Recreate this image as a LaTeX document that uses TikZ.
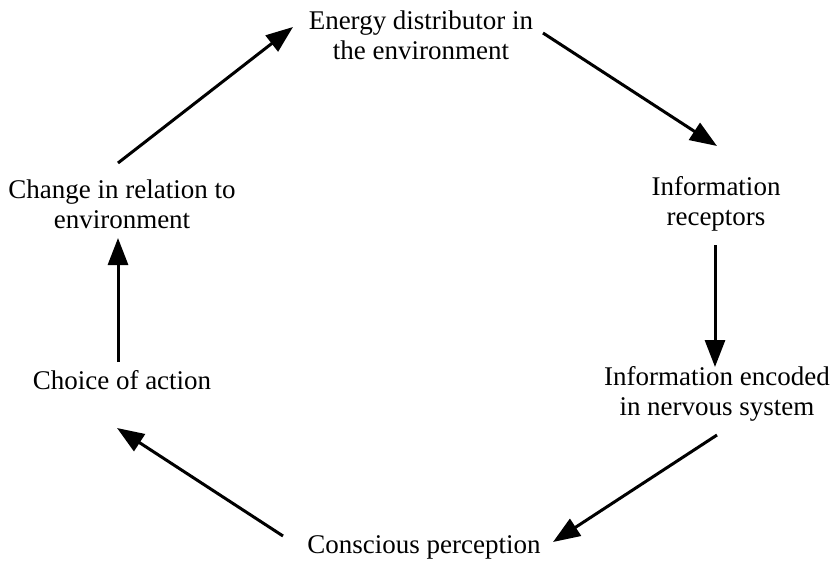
\documentclass[tikz,border=0pt]{standalone}
\usepackage{fontspec}
\setmainfont{Liberation Serif}
\usetikzlibrary{arrows.meta}
\begin{document}
\begin{tikzpicture}[x=1pt,y=-1pt,
  stage/.style={align=center,inner sep=0pt,font=\fontsize{27}{30}\selectfont},
  flow/.style={line width=3pt,-{Triangle[length=27pt,width=20pt]}}]
\useasboundingbox (0,0) rectangle (836,562);
% stages of the perception cycle
\node[stage] (energy)   at (421,35)  {Energy distributor in\\the environment};
\node[stage] (recept)   at (716,204) {Information\\receptors};
\node[stage] (encoded)  at (717,394) {Information encoded\\in nervous system};
\node[stage] (percept)  at (424,547) {Conscious perception};
\node[stage] (choice)   at (122,380) {Choice of action};
\node[stage] (change)   at (122,204) {Change in relation to\\environment};
% arrow ends next to each stage
\coordinate (change-out)  at (118,163);
\coordinate (energy-in)   at (293,27);
\coordinate (energy-out)  at (543,33);
\coordinate (recept-in)   at (717,146);
\coordinate (recept-out)  at (715,245);
\coordinate (encoded-in)  at (715,367);
\coordinate (encoded-out) at (717,435);
\coordinate (percept-in)  at (553,542);
\coordinate (percept-out) at (283,536);
\coordinate (choice-in)   at (117,428);
\coordinate (choice-out)  at (118,362);
\coordinate (change-in)   at (118,238);
% the cycle
\draw[flow] (change-out)  -- (energy-in);
\draw[flow] (energy-out)  -- (recept-in);
\draw[flow] (recept-out)  -- (encoded-in);
\draw[flow] (encoded-out) -- (percept-in);
\draw[flow] (percept-out) -- (choice-in);
\draw[flow] (choice-out)  -- (change-in);
\end{tikzpicture}
\end{document}
